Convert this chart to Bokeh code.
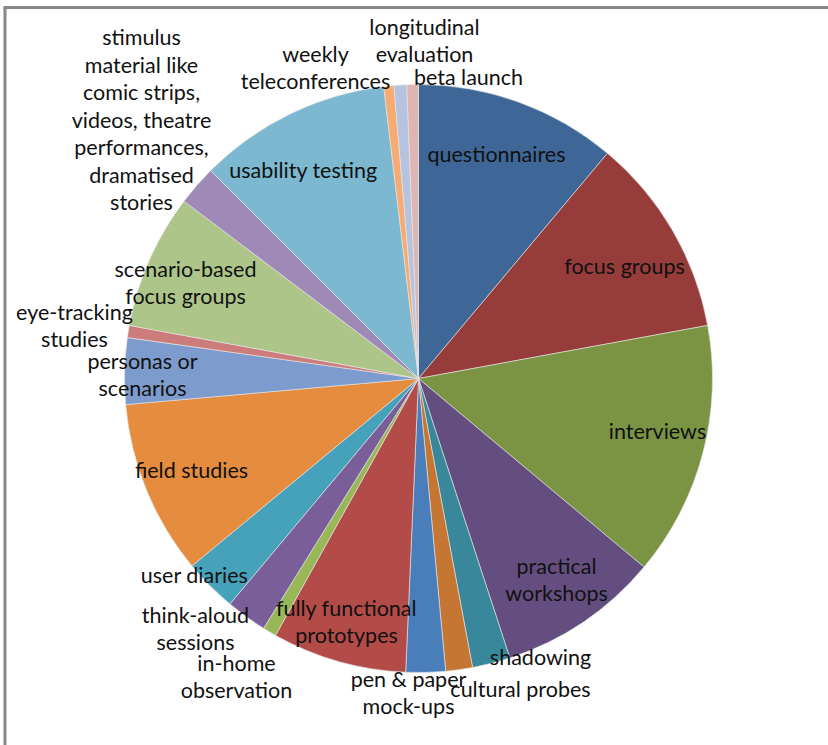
import math
from bokeh.plotting import figure
from bokeh.models import ColumnDataSource, Range1d
from bokeh.core.properties import value
from bokeh.embed import file_html
from bokeh.resources import INLINE

# ---- data ----
categories = [
    "questionnaires", "focus groups", "interviews", "practical\nworkshops",
    "shadowing", "cultural probes", "pen & paper\nmock-ups",
    "fully functional\nprototypes", "in-home\nobservation",
    "think-aloud\nsessions", "user diaries", "field studies",
    "personas or\nscenarios", "eye-tracking\nstudies",
    "scenario-based\nfocus groups",
    "stimulus\nmaterial like\ncomic strips,\nvideos, theatre\nperformances,\ndramatised\nstories",
    "usability testing", "weekly\nteleconferences", "longitudinal\nevaluation",
    "beta launch",
]
shares = [40.0, 39.6, 50.3, 32.0, 7.5, 5.3, 7.8, 26.6, 2.7, 8.1, 10.5, 34.5,
          13.1, 2.4, 26.7, 7.9, 38.2, 2.0, 2.5, 2.3]
colors = ["#3E6696", "#963C3A", "#7A9444", "#644E80", "#38879B", "#C57632",
          "#4A7EBB", "#B34B48", "#98B857", "#7A5E9A", "#46A2BA", "#E58C3E",
          "#7D9BCC", "#CC7D7B", "#ADC589", "#9E89B7", "#7CB8CF", "#F7AA72",
          "#B6C3DF", "#DFB5B4"]

# ---- layout (page pixel positions of label centres) ----
label_pos = [(496, 153), (624, 265), (657, 430), (556, 579), (540, 656),
             (520, 688), (408, 692), (346, 621), (236, 676), (195, 628),
             (194, 574), (191, 469), (142, 374), (74, 325), (185, 282),
             (141, 119), (303, 169), (315, 67), (424, 40), (468, 76)]

W, H = 828, 745
CX, CY, R = 418, H - 378, 294
LINE_H = 27.5

def py(Y):
    return H - Y

total = sum(shares)
starts, ends = [], []
acc = 0.0
for s in shares:
    a0 = acc / total * 2 * math.pi
    acc += s
    a1 = acc / total * 2 * math.pi
    starts.append(math.pi / 2 - a0)
    ends.append(math.pi / 2 - a1)

src = ColumnDataSource(dict(start=starts, end=ends, color=colors,
                            x=[CX] * len(shares), y=[CY] * len(shares)))

p = figure(width=W, height=H, output_backend="svg", toolbar_location=None,
           x_range=Range1d(0, W), y_range=Range1d(0, H), min_border=0)
p.axis.visible = False
p.grid.visible = False
p.outline_line_color = None
p.background_fill_color = "white"

p.wedge(x="x", y="y", radius=R, start_angle="start", end_angle="end",
        direction="clock", fill_color="color", line_color="#E8E8E8",
        line_width=0.6, source=src)

tx, ty, tt = [], [], []
for lab, (X, Y) in zip(categories, label_pos):
    lines = lab.split("\n")
    n = len(lines)
    for i, ln in enumerate(lines):
        tx.append(X)
        ty.append(py(Y + (i - (n - 1) / 2) * LINE_H))
        tt.append(ln)
p.text(x=tx, y=ty, text=tt, text_align="center", text_baseline="middle",
       text_font=value("Lato"), text_font_size="21.5px", text_color="#111111")

# frame (top and left edges visible in reference)
p.line(x=[3, W], y=[H - 7, H - 7], line_color="#888888", line_width=3)
p.line(x=[4.5, 4.5], y=[0, H - 7], line_color="#888888", line_width=3)

open("out.html", "w").write(file_html(p, INLINE))
